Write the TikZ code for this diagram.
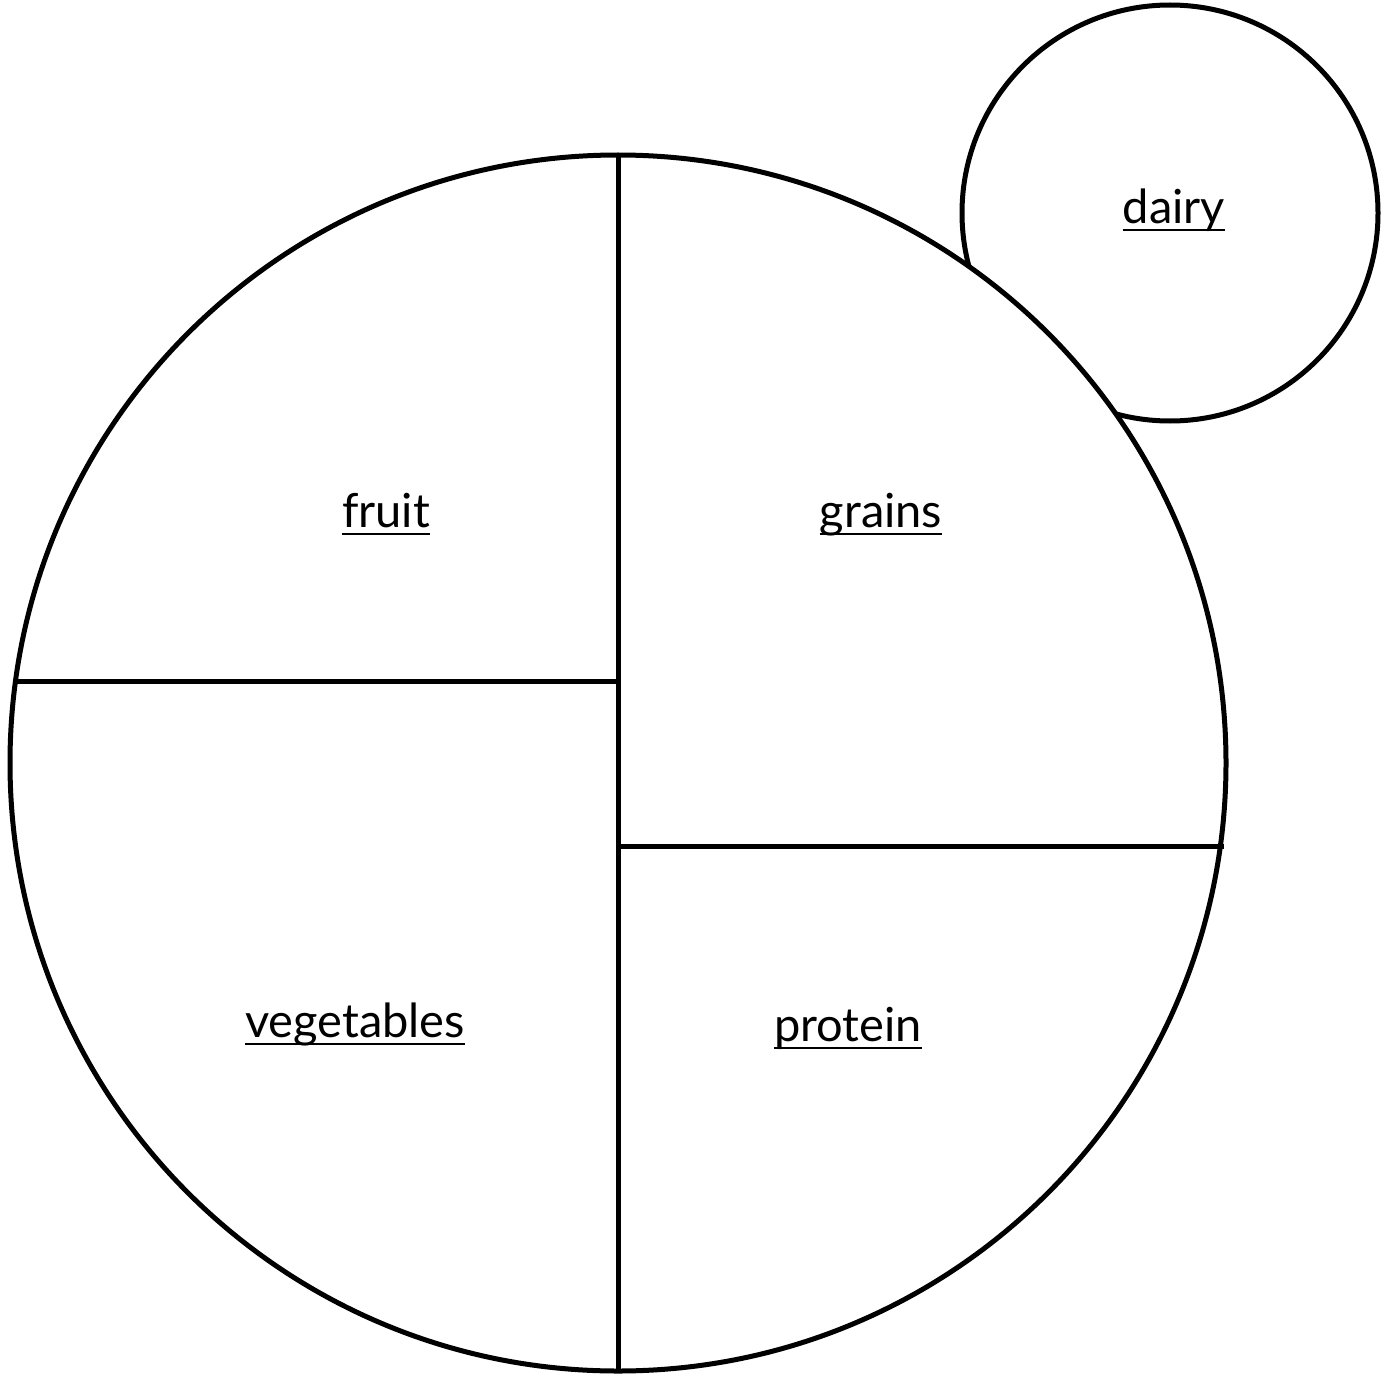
\documentclass[tikz,border=0pt]{standalone}
\usepackage{fontspec}
\setmainfont{Lato}
\begin{document}
\begin{tikzpicture}[x=1pt,y=-1pt,
  ln/.style={line width=5pt},
  lab/.style={anchor=base,inner sep=0pt,font=\fontsize{47}{50}\selectfont}]
\useasboundingbox (0,0) rectangle (1389,1375);
\fill[white] (0,0) rectangle (1389,1375);
\node[draw,ln,circle,minimum size=416pt,inner sep=0pt] (dc) at (1170,213) {};
\node[draw,ln,circle,fill=white,minimum size=1216pt,inner sep=0pt] (plate) at (618,763) {};
\coordinate (vt) at (618,155);
\coordinate (vb) at (618,1371);
\coordinate (hl) at (13,681);
\coordinate (hm) at (618,681);
\coordinate (rm) at (618,846);
\coordinate (rr) at (1224,846);
\draw[ln] (vt) -- (vb);
\draw[ln] (hl) -- (hm);
\draw[ln] (rm) -- (rr);
\node[lab] (fruit) at (386,527) {fruit};
\node[lab] (grains) at (881,527) {grains};
\node[lab] (veg) at (355,1037) {vegetables};
\node[lab] (prot) at (848,1041) {protein};
\node[lab] (dairy) at (1174,223) {dairy};
\foreach \n in {fruit,grains,veg,prot,dairy}
  \draw[line width=2pt] ([yshift=-7pt]\n.base west) -- ([yshift=-7pt]\n.base east);
\end{tikzpicture}
\end{document}
